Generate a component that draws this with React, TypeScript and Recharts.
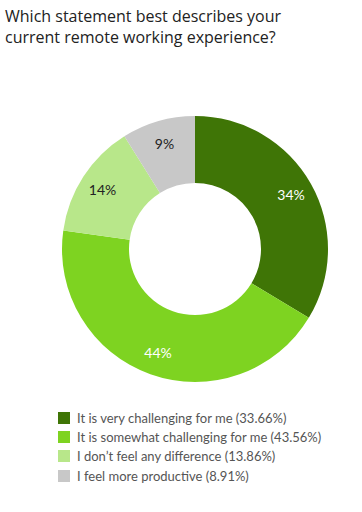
import { PieChart, Pie, Cell } from "recharts";

const answers = [
  "It is very challenging for me",
  "It is somewhat challenging for me",
  "I don\u2019t feel any difference",
  "I feel more productive",
];
const shares = [33.66, 43.56, 13.86, 8.91];
const colors = ["#3f7506", "#7ed321", "#b8e78a", "#c8c8c8"];
const labelColors = ["#ffffff", "#ffffff", "#222222", "#222222"];

const data = answers.map((name, i) => ({ name, value: shares[i] }));

const RADIAN = Math.PI / 180;

const renderLabel = (props: any) => {
  const { cx, cy, midAngle, innerRadius, outerRadius, percent, index } = props;
  const r = innerRadius + (outerRadius - innerRadius) * 0.66;
  const x = cx + r * Math.cos(-midAngle * RADIAN);
  const y = cy + r * Math.sin(-midAngle * RADIAN);
  return (
    <text
      x={x}
      y={y}
      fill={labelColors[index]}
      textAnchor="middle"
      dominantBaseline="central"
      fontFamily="Lato"
      fontSize={14}
    >
      {Math.round(percent * 100)}%
    </text>
  );
};

export default function App() {
  return (
    <div
      style={{
        position: "absolute",
        left: 0,
        top: 0,
        width: 362,
        height: 512,
        background: "#fff",
      }}
    >
      <div
        style={{
          position: "absolute",
          left: 5,
          top: 6,
          fontFamily: "Open Sans",
          fontSize: 16,
          lineHeight: "21px",
          color: "#222",
          width: 340,
        }}
      >
        Which statement best describes your
        <br />
        current remote working experience?
      </div>
      <PieChart
        width={362}
        height={400}
        margin={{ top: 0, right: 0, bottom: 0, left: 0 }}
      >
        <Pie
          data={data}
          dataKey="value"
          nameKey="name"
          cx={195}
          cy={249}
          innerRadius={66}
          outerRadius={133}
          startAngle={90}
          endAngle={-270}
          stroke="none"
          label={renderLabel}
          labelLine={false}
          isAnimationActive={false}
        >
          {data.map((d, i) => (
            <Cell key={d.name} fill={colors[i]} />
          ))}
        </Pie>
      </PieChart>
      <div
        style={{
          position: "absolute",
          left: 58,
          top: 408,
          fontFamily: "Lato",
          fontSize: 13,
          color: "#555",
        }}
      >
        {data.map((d, i) => (
          <div
            key={d.name}
            style={{ display: "flex", alignItems: "center", height: 19.3 }}
          >
            <span
              style={{
                display: "inline-block",
                width: 12,
                height: 12,
                background: colors[i],
                marginRight: 7,
              }}
            />
            {d.name} ({d.value.toFixed(2)}%)
          </div>
        ))}
      </div>
    </div>
  );
}
